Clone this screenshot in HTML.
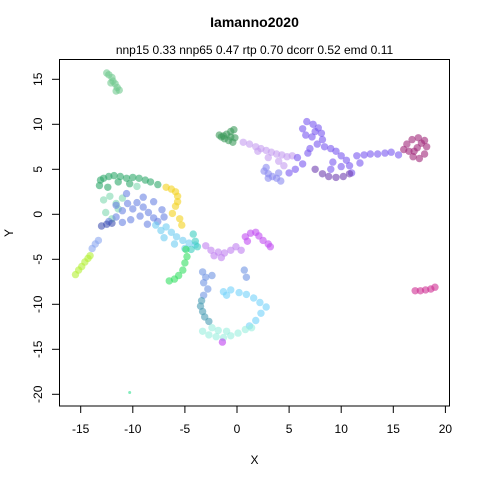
<!DOCTYPE html>
<html><head><meta charset="utf-8"><style>
html,body{margin:0;padding:0;background:#fff;}
svg{display:block;font-family:"Liberation Sans",sans-serif;}
</style></head><body>
<svg id="chart" width="480" height="480" viewBox="0 0 480 480">
<text x="254.5" y="27" text-anchor="middle" font-size="14" font-weight="bold">Iamanno2020</text>
<text x="254.5" y="54" text-anchor="middle" font-size="12">nnp15 0.33 nnp65 0.47 rtp 0.70 dcorr 0.52 emd 0.11</text>
<g id="points"></g>
<rect x="59.5" y="59.5" width="390" height="346.5" fill="none" stroke="#000" stroke-width="1"/>
<g id="xaxis"></g>
<g id="yaxis"></g>
<text x="254.5" y="464" text-anchor="middle" font-size="12">X</text>
<text x="0" y="0" transform="translate(13,233) rotate(-90)" text-anchor="middle" font-size="12">Y</text>
</svg>
<script>
const xTicks=[-15,-10,-5,0,5,10,15,20];
const yTicks=[15,10,5,0,-5,-10,-15,-20];
const clusterNames=["top-left","dark-green","lavender","blue-blob","purple","dark-purple","magenta-blob","magenta-small","green-arc","mint","yellow","blue","dark-blue","light-cyan","teal","lilac","violet-arc","lime","blue-line","bright-green","loop-blue","dark-teal","light-blue","mint-bottom","magenta-tiny","lone"];
const clusterColors=["#72c98f","#3d9b5c","#c49cf0","#8a8af0","#7a58f0","#6f40b0","#a0287a","#cf2e92","#2ea86a","#80d8b0","#f4d21e","#6b84e2","#4354b2","#6fcdf2","#3ccfc0","#c080f0","#c24cf2","#b4f036","#8aa6f0","#34df62","#6f94e2","#4a9cb4","#73d2fa","#9aeede","#c040f0","#30e090"];
const clusterPoints=[
[[-12.5,15.7],[-12.3,15.5],[-12.0,15.2],[-11.9,14.8],[-11.7,14.5],[-11.5,14.1],[-11.3,13.8],[-12.1,14.6],[-11.6,13.7]],
[[-1.7,8.8],[-1.3,8.7],[-1.0,8.9],[-0.6,9.2],[-0.3,9.4],[-1.2,8.4],[-0.8,8.2],[-0.4,8.0],[-0.2,8.5],[-0.6,8.6],[-1.5,8.6]],
[[0.6,8.0],[1.2,7.8],[1.8,7.5],[2.3,7.3],[2.8,7.1],[3.3,6.9],[3.8,6.7],[4.3,6.6],[4.8,6.4],[5.3,6.5],[3.0,6.3],[4.0,5.9],[2.0,7.0],[4.5,5.4]],
[[2.6,4.8],[3.0,4.5],[3.4,4.2],[3.8,4.0],[3.0,4.0],[2.8,5.2],[4.2,3.7],[4.0,4.6]],
[[6.3,9.5],[6.7,10.3],[7.3,10.0],[7.8,9.6],[8.1,9.0],[8.2,8.3],[7.7,7.8],[7.2,8.6],[6.6,8.8],[7.5,9.2],[8.4,7.5],[7.0,7.3],[5.8,6.3],[6.3,5.6],[5.6,5.0],[5.0,4.6],[6.8,6.8],[9.0,7.3],[9.5,7.0],[10.0,6.5],[10.5,6.0],[10.8,5.4],[11.0,4.6],[9.2,5.8],[9.0,5.0],[10.0,5.3],[11.5,6.5],[12.2,6.6],[12.8,6.7],[13.5,6.7],[14.2,6.8],[14.8,6.9],[15.5,6.6],[11.8,5.7]],
[[7.5,5.0],[8.2,4.5],[8.8,4.2],[9.5,4.1],[10.2,4.2],[10.8,4.5]],
[[16.3,7.8],[16.8,8.3],[17.4,8.5],[18.0,8.2],[18.2,7.5],[18.0,6.7],[17.5,6.2],[16.9,6.4],[16.5,7.0],[17.3,7.4],[17.7,7.9],[17.0,7.0],[16.0,7.2]],
[[17.1,-8.5],[17.6,-8.5],[18.1,-8.4],[18.6,-8.3],[19.0,-8.1]],
[[-13.1,3.8],[-12.8,4.0],[-12.3,4.2],[-11.8,4.3],[-11.2,4.2],[-10.6,4.0],[-10.0,4.1],[-9.4,4.0],[-8.8,3.8],[-8.3,3.6],[-7.6,3.3],[-13.2,3.2],[-12.4,3.0],[-10.3,3.4],[-11.4,3.6]],
[[-12.8,1.6],[-12.2,2.0],[-11.6,1.2],[-12.6,0.2],[-12.0,-0.5],[-11.4,0.6],[-9.6,3.1],[-11.0,1.8]],
[[-6.8,3.0],[-6.3,2.8],[-5.9,2.5],[-5.7,2.0],[-5.7,1.4],[-5.9,0.9],[-5.5,-0.5],[-5.3,-1.2],[-6.2,0.1]],
[[-11.6,1.0],[-11.0,0.4],[-10.5,1.2],[-10.0,0.6],[-9.6,1.3],[-9.0,0.8],[-8.5,0.2],[-8.0,-0.4],[-7.6,-0.8],[-9.3,-0.2],[-10.2,-0.6],[-11.0,-0.9],[-11.6,-0.3],[-12.3,-0.8],[-9.0,1.9],[-8.0,1.4],[-7.2,0.5],[-10.6,2.3],[-8.6,-1.1],[-7.0,-0.3]],
[[-13.0,-1.3],[-12.5,-1.1],[-12.0,-1.0]],
[[-7.8,-1.2],[-7.3,-1.8],[-6.8,-1.4],[-6.3,-2.0],[-5.8,-2.5],[-5.2,-2.9],[-4.6,-3.2],[-4.0,-3.4],[-7.0,-2.6],[-6.0,-3.3],[-5.0,-3.8]],
[[-4.2,-2.2],[-4.0,-3.0],[-3.8,-3.6],[-4.4,-3.9]],
[[-3.0,-3.5],[-2.5,-4.0],[-1.8,-4.2],[-1.2,-4.3],[-0.6,-4.0],[-0.1,-3.6],[-1.5,-4.8],[-2.2,-4.6],[0.4,-4.0]],
[[0.8,-2.5],[1.3,-2.1],[1.8,-2.0],[2.1,-2.4],[2.5,-2.9],[3.0,-3.3],[3.2,-3.6],[1.0,-3.0]],
[[-15.5,-6.7],[-15.2,-6.2],[-14.9,-5.8],[-14.6,-5.3],[-14.3,-4.9],[-14.1,-4.6]],
[[-13.9,-3.8],[-13.6,-3.3],[-13.3,-2.9]],
[[-6.5,-7.4],[-6.0,-7.2],[-5.6,-6.8],[-5.2,-6.2],[-5.0,-5.4],[-4.8,-4.7],[-4.9,-3.9]],
[[-3.3,-6.4],[-3.0,-7.0],[-3.2,-7.6],[-2.8,-8.3],[-3.2,-9.0],[-2.4,-6.8],[0.7,-6.2],[0.9,-7.0]],
[[-3.4,-9.6],[-3.5,-10.2],[-3.3,-10.8],[-3.1,-11.4],[-2.7,-11.9]],
[[-1.3,-8.6],[-0.6,-8.4],[0.2,-8.7],[0.9,-8.9],[1.6,-9.3],[2.2,-9.8],[2.8,-10.3],[2.3,-11.0],[1.8,-11.8],[1.2,-12.4],[-1.0,-9.0]],
[[-3.3,-13.0],[-2.7,-13.4],[-2.0,-13.6],[-1.3,-13.7],[-0.6,-13.5],[0.1,-13.2],[0.8,-12.8],[-1.8,-12.9],[-1.0,-13.0],[-2.4,-12.6],[1.4,-12.6]],
[[-1.4,-14.2]],
[[-10.3,-19.8]]
];
const NS="http://www.w3.org/2000/svg";
function sx(v){return 237+v*10.42;}
function sy(v){return 214.3-v*9;}
const pg=document.getElementById('points');
clusterPoints.forEach((pts,ci)=>{
  const g=document.createElementNS(NS,'g');
  
  
  pts.forEach(p=>{
    const c=document.createElementNS(NS,'circle');
    c.setAttribute('cx',sx(p[0]));c.setAttribute('cy',sy(p[1]));
    c.setAttribute('r',ci===25?1.5:3.7);
    c.setAttribute('fill',clusterColors[ci]);c.setAttribute('fill-opacity',0.6);
    
    
    g.appendChild(c);
  });
  pg.appendChild(g);
});
const xg=document.getElementById('xaxis');
xTicks.forEach(t=>{
  const x=sx(t);
  const l=document.createElementNS(NS,'line');
  l.setAttribute('x1',x);l.setAttribute('x2',x);l.setAttribute('y1',406);l.setAttribute('y2',413);l.setAttribute('stroke','#000');
  
  
  xg.appendChild(l);
  const tx=document.createElementNS(NS,'text');
  tx.setAttribute('x',x);tx.setAttribute('y',433);tx.setAttribute('text-anchor','middle');tx.setAttribute('font-size','12');
  tx.textContent=t;
  
  
  xg.appendChild(tx);
});
const yg=document.getElementById('yaxis');
yTicks.forEach(t=>{
  const y=sy(t);
  const l=document.createElementNS(NS,'line');
  l.setAttribute('x1',52);l.setAttribute('x2',59.5);l.setAttribute('y1',y);l.setAttribute('y2',y);l.setAttribute('stroke','#000');
  
  
  yg.appendChild(l);
  const tx=document.createElementNS(NS,'text');
  tx.setAttribute('transform','translate(42,'+y+') rotate(-90)');tx.setAttribute('text-anchor','middle');tx.setAttribute('font-size','12');
  tx.textContent=t;
  
  
  yg.appendChild(tx);
});
</script>
</body></html>
